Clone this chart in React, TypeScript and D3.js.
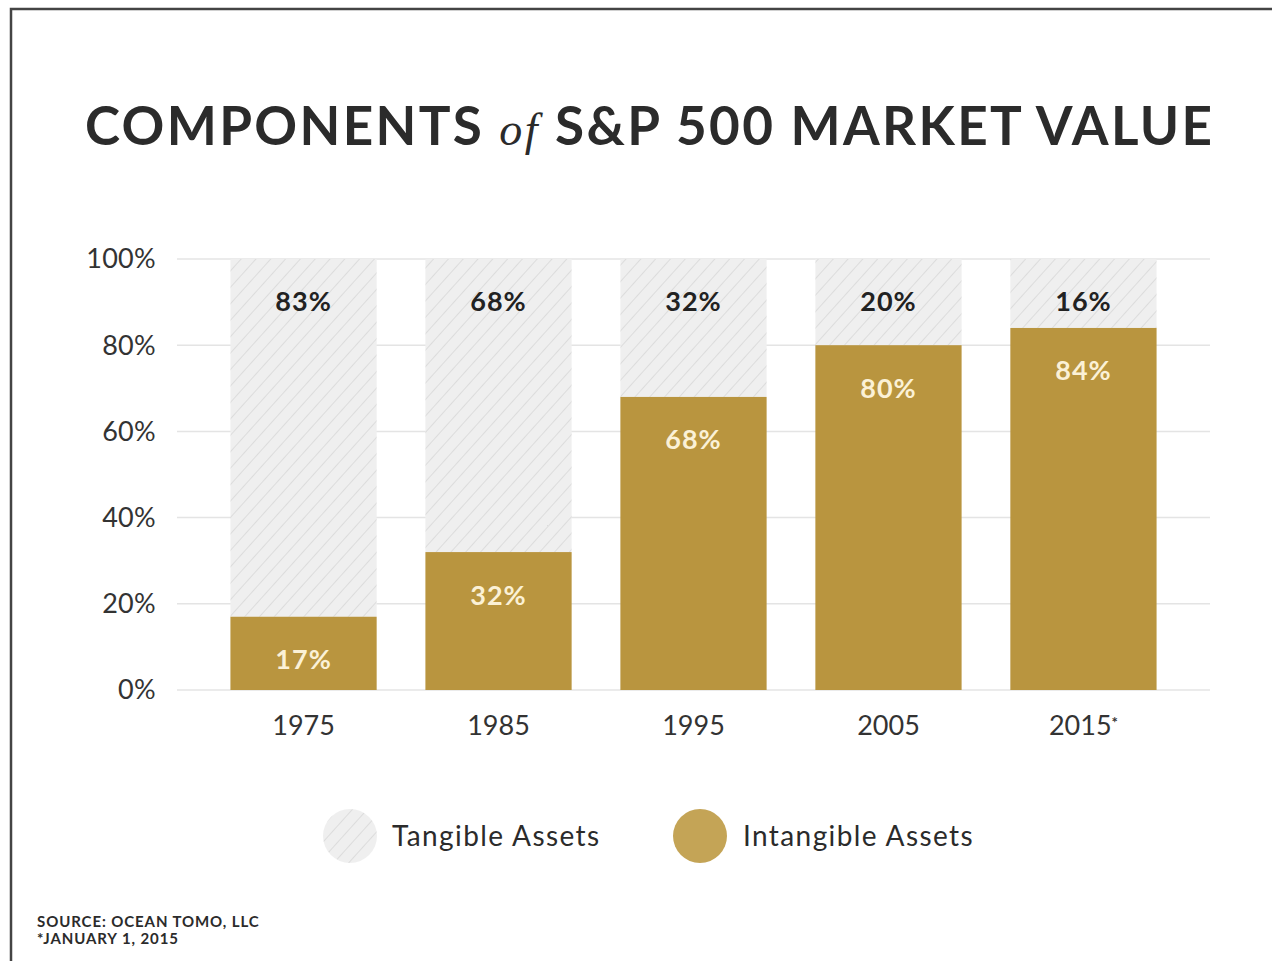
import { useEffect, useRef } from "react";
import * as d3 from "d3";

const years = ["1975", "1985", "1995", "2005", "2015"];
const intangible = [17, 32, 68, 80, 84];
const tangible = [83, 68, 32, 20, 16];
const yTicks = [0, 20, 40, 60, 80, 100];

const GOLD = "#b9953f";
const W = 1272;
const H = 961;

export default function App() {
  const svgRef = useRef<SVGSVGElement>(null);

  useEffect(() => {
    if (!svgRef.current) return;
    const svg = d3.select(svgRef.current);
    svg.selectAll("*").remove();

    const rows = years.map((year, i) => ({
      year,
      intangible: intangible[i],
      tangible: tangible[i],
    }));

    // hatch pattern for tangible assets
    const defs = svg.append("defs");
    const pat = defs
      .append("pattern")
      .attr("id", "hatch")
      .attr("patternUnits", "userSpaceOnUse")
      .attr("width", 11)
      .attr("height", 11)
      .attr("patternTransform", "rotate(42)");
    pat.append("rect").attr("width", 11).attr("height", 11).attr("fill", "#efefef");
    pat
      .append("line")
      .attr("x1", 0)
      .attr("y1", 0)
      .attr("x2", 0)
      .attr("y2", 11)
      .attr("stroke", "#dcdcdc")
      .attr("stroke-width", 2);

    // frame
    svg
      .append("path")
      .attr("d", `M11,${H} L11,9 L${W},9`)
      .attr("fill", "none")
      .attr("stroke", "#444")
      .attr("stroke-width", 2.5);

    const font = "Lato, 'Noto Sans', sans-serif";

    // title
    const title = svg
      .append("text")
      .attr("x", 85)
      .attr("y", 145)
      .attr("textLength", 1127)
      .attr("lengthAdjust", "spacing")
      .style("font-family", font)
      .style("font-size", "53px")
      .style("font-weight", 700)
      .style("fill", "#2b2b2b");
    title.append("tspan").text("COMPONENTS ");
    title
      .append("tspan")
      .style("font-family", "'Liberation Serif', 'DejaVu Serif', serif")
      .style("font-style", "italic")
      .style("font-weight", 400)
      .style("font-size", "46px")
      .text("of");
    title.append("tspan").text(" S&P 500 MARKET VALUE");

    const x = d3
      .scaleBand()
      .domain(years)
      .range([177, 1210])
      .paddingInner(0.25)
      .paddingOuter(0.274);

    const y = d3.scaleLinear().domain([0, 100]).range([690, 259]);

    // grid
    svg
      .append("g")
      .selectAll("line")
      .data(yTicks)
      .enter()
      .append("line")
      .attr("x1", 177)
      .attr("x2", 1210)
      .attr("y1", (d) => y(d))
      .attr("y2", (d) => y(d))
      .attr("stroke", "#e4e4e4")
      .attr("stroke-width", 1.5);

    // y axis labels
    svg
      .append("g")
      .selectAll("text")
      .data(yTicks)
      .enter()
      .append("text")
      .attr("x", 156)
      .attr("y", (d) => y(d))
      .attr("dy", "0.35em")
      .attr("text-anchor", "end")
      .style("font-family", font)
      .style("font-size", "27px")
      .style("letter-spacing", "0.3px")
      .style("fill", "#333")
      .text((d) => `${d}%`);

    // tangible (stacked above intangible)
    svg
      .append("g")
      .selectAll("rect")
      .data(rows)
      .enter()
      .append("rect")
      .attr("x", (d) => x(d.year) || 0)
      .attr("width", x.bandwidth())
      .attr("y", (d) => y(d.intangible + d.tangible))
      .attr("height", (d) => y(d.intangible) - y(d.intangible + d.tangible))
      .attr("fill", "url(#hatch)");

    // intangible
    svg
      .append("g")
      .selectAll("rect")
      .data(rows)
      .enter()
      .append("rect")
      .attr("x", (d) => x(d.year) || 0)
      .attr("width", x.bandwidth())
      .attr("y", (d) => y(d.intangible))
      .attr("height", (d) => y(0) - y(d.intangible))
      .attr("fill", GOLD);

    // tangible labels
    svg
      .append("g")
      .selectAll("text")
      .data(rows)
      .enter()
      .append("text")
      .attr("x", (d) => (x(d.year) || 0) + x.bandwidth() / 2)
      .attr("y", (d) => y(d.intangible + d.tangible) + 43)
      .attr("dy", "0.35em")
      .attr("text-anchor", "middle")
      .style("font-family", font)
      .style("font-size", "27px")
      .style("letter-spacing", "1px")
      .style("font-weight", 700)
      .style("fill", "#222")
      .text((d) => `${d.tangible}%`);

    // intangible labels
    svg
      .append("g")
      .selectAll("text")
      .data(rows)
      .enter()
      .append("text")
      .attr("x", (d) => (x(d.year) || 0) + x.bandwidth() / 2)
      .attr("y", (d) => y(d.intangible) + 43)
      .attr("dy", "0.35em")
      .attr("text-anchor", "middle")
      .style("font-family", font)
      .style("font-size", "27px")
      .style("letter-spacing", "1px")
      .style("font-weight", 700)
      .style("fill", "#fbf1d6")
      .text((d) => `${d.intangible}%`);

    // x labels
    const xl = svg
      .append("g")
      .selectAll("text")
      .data(years)
      .enter()
      .append("text")
      .attr("x", (d) => (x(d) || 0) + x.bandwidth() / 2)
      .attr("y", 726)
      .attr("dy", "0.35em")
      .attr("text-anchor", "middle")
      .style("font-family", font)
      .style("font-size", "27px")
      .style("fill", "#333")
      .text((d) => d);
    xl.filter((d) => d === "2015")
      .append("tspan")
      .attr("dy", "-0.5em")
      .style("font-size", "15px")
      .style("font-weight", 700)
      .text("*");

    // legend
    const legend = [
      { label: "Tangible Assets", fill: "url(#hatch)", cx: 350, tx: 392 },
      { label: "Intangible Assets", fill: "#c4a456", cx: 700, tx: 743 },
    ];
    const lg = svg.append("g");
    lg.selectAll("circle")
      .data(legend)
      .enter()
      .append("circle")
      .attr("cx", (d) => d.cx)
      .attr("cy", 836)
      .attr("r", 27)
      .attr("fill", (d) => d.fill);
    lg.selectAll("text")
      .data(legend)
      .enter()
      .append("text")
      .attr("x", (d) => d.tx)
      .attr("y", 836)
      .attr("dy", "0.35em")
      .style("font-family", font)
      .style("font-size", "28px")
      .style("letter-spacing", "1.4px")
      .style("fill", "#2b2b2b")
      .text((d) => d.label);

    // source
    const src = svg
      .append("text")
      .style("font-family", font)
      .style("font-size", "15px")
      .style("letter-spacing", "0.9px")
      .style("font-weight", 700)
      .style("fill", "#2b2b2b");
    src.append("tspan").attr("x", 37).attr("y", 927).text("SOURCE: OCEAN TOMO, LLC");
    src.append("tspan").attr("x", 37).attr("y", 944).text("*JANUARY 1, 2015");
  }, []);

  return (
    <svg
      ref={svgRef}
      width={W}
      height={H}
      viewBox={`0 0 ${W} ${H}`}
      style={{ position: "absolute", left: 0, top: 0, background: "#fff" }}
    />
  );
}
